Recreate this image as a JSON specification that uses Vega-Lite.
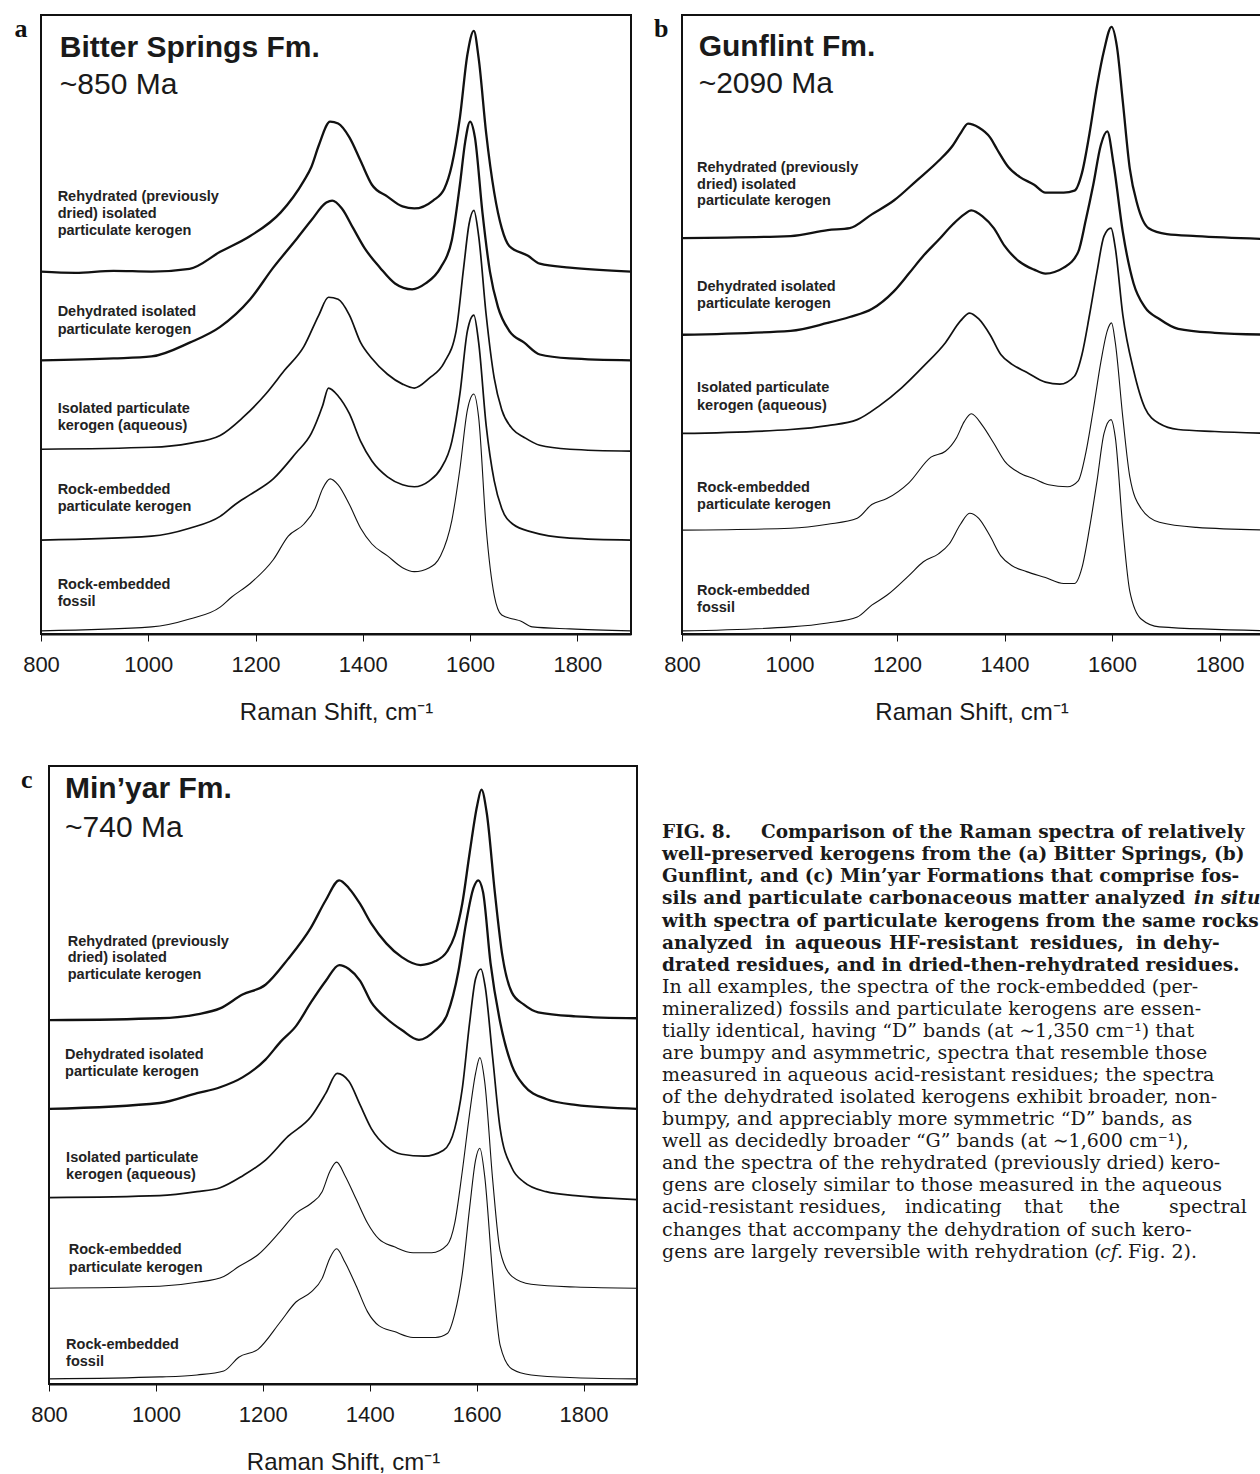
{
"$schema": "https://vega.github.io/schema/vega-lite/v6.json",
"background": "white",
"padding": {"left": 13, "top": 14, "right": 0, "bottom": 0},
"config": {"view": {"stroke": "#111", "strokeWidth": 2}},
"datasets": {
"spectra": [
{"p":"a","s":1,"x":800,"y":918},{"p":"a","s":1,"x":864,"y":915},{"p":"a","s":1,"x":935,"y":920},{"p":"a","s":1,"x":1006,"y":918},{"p":"a","s":1,"x":1077,"y":925},{"p":"a","s":1,"x":1134,"y":968},{"p":"a","s":1,"x":1190,"y":1008},{"p":"a","s":1,"x":1247,"y":1068},{"p":"a","s":1,"x":1290,"y":1148},{"p":"a","s":1,"x":1304,"y":1183},{"p":"a","s":1,"x":1318,"y":1238},{"p":"a","s":1,"x":1339,"y":1298},{"p":"a","s":1,"x":1354,"y":1293},{"p":"a","s":1,"x":1375,"y":1258},{"p":"a","s":1,"x":1396,"y":1198},{"p":"a","s":1,"x":1417,"y":1138},{"p":"a","s":1,"x":1446,"y":1108},{"p":"a","s":1,"x":1474,"y":1083},{"p":"a","s":1,"x":1496,"y":1078},{"p":"a","s":1,"x":1531,"y":1098},{"p":"a","s":1,"x":1552,"y":1128},{"p":"a","s":1,"x":1566,"y":1188},{"p":"a","s":1,"x":1581,"y":1308},{"p":"a","s":1,"x":1595,"y":1468},{"p":"a","s":1,"x":1607,"y":1528},{"p":"a","s":1,"x":1616,"y":1458},{"p":"a","s":1,"x":1630,"y":1268},{"p":"a","s":1,"x":1645,"y":1118},{"p":"a","s":1,"x":1659,"y":1028},{"p":"a","s":1,"x":1673,"y":983},{"p":"a","s":1,"x":1708,"y":958},{"p":"a","s":1,"x":1730,"y":938},{"p":"a","s":1,"x":1786,"y":928},{"p":"a","s":1,"x":1900,"y":918},
{"p":"a","s":2,"x":800,"y":693},{"p":"a","s":2,"x":935,"y":698},{"p":"a","s":2,"x":1006,"y":703},{"p":"a","s":2,"x":1077,"y":738},{"p":"a","s":2,"x":1134,"y":778},{"p":"a","s":2,"x":1190,"y":848},{"p":"a","s":2,"x":1233,"y":928},{"p":"a","s":2,"x":1275,"y":998},{"p":"a","s":2,"x":1304,"y":1048},{"p":"a","s":2,"x":1332,"y":1093},{"p":"a","s":2,"x":1343,"y":1098},{"p":"a","s":2,"x":1361,"y":1078},{"p":"a","s":2,"x":1382,"y":1028},{"p":"a","s":2,"x":1403,"y":978},{"p":"a","s":2,"x":1432,"y":928},{"p":"a","s":2,"x":1460,"y":888},{"p":"a","s":2,"x":1492,"y":873},{"p":"a","s":2,"x":1517,"y":888},{"p":"a","s":2,"x":1545,"y":928},{"p":"a","s":2,"x":1566,"y":998},{"p":"a","s":2,"x":1581,"y":1138},{"p":"a","s":2,"x":1591,"y":1248},{"p":"a","s":2,"x":1600,"y":1298},{"p":"a","s":2,"x":1609,"y":1258},{"p":"a","s":2,"x":1623,"y":1068},{"p":"a","s":2,"x":1637,"y":918},{"p":"a","s":2,"x":1652,"y":828},{"p":"a","s":2,"x":1673,"y":768},{"p":"a","s":2,"x":1701,"y":738},{"p":"a","s":2,"x":1730,"y":708},{"p":"a","s":2,"x":1786,"y":698},{"p":"a","s":2,"x":1900,"y":693},
{"p":"a","s":3,"x":800,"y":468},{"p":"a","s":3,"x":1006,"y":473},{"p":"a","s":3,"x":1077,"y":483},{"p":"a","s":3,"x":1134,"y":503},{"p":"a","s":3,"x":1176,"y":548},{"p":"a","s":3,"x":1219,"y":608},{"p":"a","s":3,"x":1254,"y":668},{"p":"a","s":3,"x":1290,"y":728},{"p":"a","s":3,"x":1318,"y":808},{"p":"a","s":3,"x":1336,"y":853},{"p":"a","s":3,"x":1354,"y":848},{"p":"a","s":3,"x":1375,"y":808},{"p":"a","s":3,"x":1396,"y":738},{"p":"a","s":3,"x":1417,"y":698},{"p":"a","s":3,"x":1446,"y":658},{"p":"a","s":3,"x":1474,"y":633},{"p":"a","s":3,"x":1496,"y":623},{"p":"a","s":3,"x":1524,"y":648},{"p":"a","s":3,"x":1552,"y":688},{"p":"a","s":3,"x":1574,"y":768},{"p":"a","s":3,"x":1588,"y":928},{"p":"a","s":3,"x":1598,"y":1038},{"p":"a","s":3,"x":1607,"y":1073},{"p":"a","s":3,"x":1616,"y":1008},{"p":"a","s":3,"x":1630,"y":808},{"p":"a","s":3,"x":1645,"y":648},{"p":"a","s":3,"x":1659,"y":568},{"p":"a","s":3,"x":1680,"y":518},{"p":"a","s":3,"x":1701,"y":498},{"p":"a","s":3,"x":1730,"y":478},{"p":"a","s":3,"x":1786,"y":468},{"p":"a","s":3,"x":1900,"y":463},
{"p":"a","s":4,"x":800,"y":238},{"p":"a","s":4,"x":1006,"y":248},{"p":"a","s":4,"x":1077,"y":268},{"p":"a","s":4,"x":1134,"y":298},{"p":"a","s":4,"x":1162,"y":328},{"p":"a","s":4,"x":1190,"y":353},{"p":"a","s":4,"x":1233,"y":393},{"p":"a","s":4,"x":1275,"y":458},{"p":"a","s":4,"x":1304,"y":508},{"p":"a","s":4,"x":1325,"y":578},{"p":"a","s":4,"x":1336,"y":623},{"p":"a","s":4,"x":1354,"y":603},{"p":"a","s":4,"x":1375,"y":558},{"p":"a","s":4,"x":1396,"y":488},{"p":"a","s":4,"x":1417,"y":438},{"p":"a","s":4,"x":1446,"y":398},{"p":"a","s":4,"x":1474,"y":378},{"p":"a","s":4,"x":1496,"y":373},{"p":"a","s":4,"x":1524,"y":388},{"p":"a","s":4,"x":1545,"y":418},{"p":"a","s":4,"x":1566,"y":488},{"p":"a","s":4,"x":1581,"y":608},{"p":"a","s":4,"x":1595,"y":768},{"p":"a","s":4,"x":1607,"y":808},{"p":"a","s":4,"x":1616,"y":738},{"p":"a","s":4,"x":1630,"y":528},{"p":"a","s":4,"x":1645,"y":388},{"p":"a","s":4,"x":1659,"y":318},{"p":"a","s":4,"x":1680,"y":278},{"p":"a","s":4,"x":1716,"y":258},{"p":"a","s":4,"x":1786,"y":243},{"p":"a","s":4,"x":1900,"y":238},
{"p":"a","s":5,"x":800,"y":8},{"p":"a","s":5,"x":1006,"y":18},{"p":"a","s":5,"x":1077,"y":38},{"p":"a","s":5,"x":1134,"y":68},{"p":"a","s":5,"x":1155,"y":93},{"p":"a","s":5,"x":1190,"y":128},{"p":"a","s":5,"x":1233,"y":188},{"p":"a","s":5,"x":1261,"y":248},{"p":"a","s":5,"x":1290,"y":278},{"p":"a","s":5,"x":1311,"y":318},{"p":"a","s":5,"x":1325,"y":368},{"p":"a","s":5,"x":1339,"y":393},{"p":"a","s":5,"x":1354,"y":378},{"p":"a","s":5,"x":1375,"y":328},{"p":"a","s":5,"x":1396,"y":268},{"p":"a","s":5,"x":1417,"y":228},{"p":"a","s":5,"x":1446,"y":198},{"p":"a","s":5,"x":1474,"y":168},{"p":"a","s":5,"x":1496,"y":158},{"p":"a","s":5,"x":1524,"y":168},{"p":"a","s":5,"x":1545,"y":198},{"p":"a","s":5,"x":1566,"y":288},{"p":"a","s":5,"x":1581,"y":418},{"p":"a","s":5,"x":1595,"y":568},{"p":"a","s":5,"x":1607,"y":608},{"p":"a","s":5,"x":1616,"y":548},{"p":"a","s":5,"x":1630,"y":268},{"p":"a","s":5,"x":1645,"y":98},{"p":"a","s":5,"x":1659,"y":48},{"p":"a","s":5,"x":1680,"y":38},{"p":"a","s":5,"x":1694,"y":33},{"p":"a","s":5,"x":1716,"y":18},{"p":"a","s":5,"x":1786,"y":13},{"p":"a","s":5,"x":1900,"y":8},
{"p":"b","s":1,"x":800,"y":1003},{"p":"b","s":1,"x":1002,"y":1008},{"p":"b","s":1,"x":1071,"y":1023},{"p":"b","s":1,"x":1112,"y":1028},{"p":"b","s":1,"x":1153,"y":1063},{"p":"b","s":1,"x":1194,"y":1098},{"p":"b","s":1,"x":1236,"y":1148},{"p":"b","s":1,"x":1277,"y":1198},{"p":"b","s":1,"x":1304,"y":1238},{"p":"b","s":1,"x":1318,"y":1268},{"p":"b","s":1,"x":1332,"y":1293},{"p":"b","s":1,"x":1352,"y":1283},{"p":"b","s":1,"x":1373,"y":1258},{"p":"b","s":1,"x":1386,"y":1228},{"p":"b","s":1,"x":1407,"y":1183},{"p":"b","s":1,"x":1428,"y":1158},{"p":"b","s":1,"x":1455,"y":1138},{"p":"b","s":1,"x":1476,"y":1118},{"p":"b","s":1,"x":1510,"y":1118},{"p":"b","s":1,"x":1530,"y":1123},{"p":"b","s":1,"x":1544,"y":1168},{"p":"b","s":1,"x":1558,"y":1268},{"p":"b","s":1,"x":1572,"y":1388},{"p":"b","s":1,"x":1585,"y":1478},{"p":"b","s":1,"x":1599,"y":1538},{"p":"b","s":1,"x":1609,"y":1488},{"p":"b","s":1,"x":1620,"y":1348},{"p":"b","s":1,"x":1633,"y":1178},{"p":"b","s":1,"x":1647,"y":1088},{"p":"b","s":1,"x":1668,"y":1028},{"p":"b","s":1,"x":1702,"y":1013},{"p":"b","s":1,"x":1757,"y":1008},{"p":"b","s":1,"x":1900,"y":1000},
{"p":"b","s":2,"x":800,"y":758},{"p":"b","s":2,"x":1002,"y":768},{"p":"b","s":2,"x":1071,"y":788},{"p":"b","s":2,"x":1112,"y":803},{"p":"b","s":2,"x":1153,"y":823},{"p":"b","s":2,"x":1194,"y":868},{"p":"b","s":2,"x":1222,"y":913},{"p":"b","s":2,"x":1249,"y":958},{"p":"b","s":2,"x":1277,"y":998},{"p":"b","s":2,"x":1304,"y":1038},{"p":"b","s":2,"x":1325,"y":1063},{"p":"b","s":2,"x":1338,"y":1073},{"p":"b","s":2,"x":1359,"y":1058},{"p":"b","s":2,"x":1380,"y":1028},{"p":"b","s":2,"x":1400,"y":983},{"p":"b","s":2,"x":1428,"y":943},{"p":"b","s":2,"x":1455,"y":923},{"p":"b","s":2,"x":1476,"y":913},{"p":"b","s":2,"x":1510,"y":928},{"p":"b","s":2,"x":1537,"y":968},{"p":"b","s":2,"x":1551,"y":1048},{"p":"b","s":2,"x":1565,"y":1138},{"p":"b","s":2,"x":1579,"y":1238},{"p":"b","s":2,"x":1591,"y":1273},{"p":"b","s":2,"x":1603,"y":1188},{"p":"b","s":2,"x":1620,"y":1018},{"p":"b","s":2,"x":1640,"y":888},{"p":"b","s":2,"x":1661,"y":828},{"p":"b","s":2,"x":1688,"y":798},{"p":"b","s":2,"x":1723,"y":773},{"p":"b","s":2,"x":1791,"y":763},{"p":"b","s":2,"x":1900,"y":758},
{"p":"b","s":3,"x":800,"y":508},{"p":"b","s":3,"x":1002,"y":518},{"p":"b","s":3,"x":1071,"y":528},{"p":"b","s":3,"x":1126,"y":543},{"p":"b","s":3,"x":1167,"y":578},{"p":"b","s":3,"x":1208,"y":623},{"p":"b","s":3,"x":1249,"y":678},{"p":"b","s":3,"x":1290,"y":738},{"p":"b","s":3,"x":1318,"y":793},{"p":"b","s":3,"x":1335,"y":813},{"p":"b","s":3,"x":1352,"y":798},{"p":"b","s":3,"x":1373,"y":758},{"p":"b","s":3,"x":1393,"y":708},{"p":"b","s":3,"x":1414,"y":683},{"p":"b","s":3,"x":1441,"y":663},{"p":"b","s":3,"x":1476,"y":638},{"p":"b","s":3,"x":1503,"y":633},{"p":"b","s":3,"x":1530,"y":653},{"p":"b","s":3,"x":1544,"y":708},{"p":"b","s":3,"x":1558,"y":808},{"p":"b","s":3,"x":1572,"y":918},{"p":"b","s":3,"x":1585,"y":1008},{"p":"b","s":3,"x":1598,"y":1028},{"p":"b","s":3,"x":1606,"y":978},{"p":"b","s":3,"x":1620,"y":808},{"p":"b","s":3,"x":1640,"y":668},{"p":"b","s":3,"x":1661,"y":573},{"p":"b","s":3,"x":1688,"y":533},{"p":"b","s":3,"x":1723,"y":518},{"p":"b","s":3,"x":1791,"y":513},{"p":"b","s":3,"x":1900,"y":508},
{"p":"b","s":4,"x":800,"y":263},{"p":"b","s":4,"x":1002,"y":268},{"p":"b","s":4,"x":1071,"y":278},{"p":"b","s":4,"x":1126,"y":293},{"p":"b","s":4,"x":1153,"y":328},{"p":"b","s":4,"x":1181,"y":343},{"p":"b","s":4,"x":1222,"y":383},{"p":"b","s":4,"x":1263,"y":448},{"p":"b","s":4,"x":1290,"y":463},{"p":"b","s":4,"x":1311,"y":498},{"p":"b","s":4,"x":1325,"y":538},{"p":"b","s":4,"x":1338,"y":558},{"p":"b","s":4,"x":1359,"y":528},{"p":"b","s":4,"x":1380,"y":483},{"p":"b","s":4,"x":1400,"y":438},{"p":"b","s":4,"x":1428,"y":408},{"p":"b","s":4,"x":1455,"y":393},{"p":"b","s":4,"x":1482,"y":378},{"p":"b","s":4,"x":1517,"y":373},{"p":"b","s":4,"x":1537,"y":388},{"p":"b","s":4,"x":1551,"y":458},{"p":"b","s":4,"x":1565,"y":568},{"p":"b","s":4,"x":1579,"y":688},{"p":"b","s":4,"x":1591,"y":768},{"p":"b","s":4,"x":1599,"y":788},{"p":"b","s":4,"x":1606,"y":738},{"p":"b","s":4,"x":1620,"y":548},{"p":"b","s":4,"x":1633,"y":398},{"p":"b","s":4,"x":1654,"y":318},{"p":"b","s":4,"x":1688,"y":283},{"p":"b","s":4,"x":1757,"y":270},{"p":"b","s":4,"x":1900,"y":263},
{"p":"b","s":5,"x":800,"y":8},{"p":"b","s":5,"x":1002,"y":18},{"p":"b","s":5,"x":1071,"y":28},{"p":"b","s":5,"x":1126,"y":43},{"p":"b","s":5,"x":1153,"y":73},{"p":"b","s":5,"x":1181,"y":98},{"p":"b","s":5,"x":1222,"y":148},{"p":"b","s":5,"x":1249,"y":183},{"p":"b","s":5,"x":1277,"y":203},{"p":"b","s":5,"x":1297,"y":228},{"p":"b","s":5,"x":1318,"y":278},{"p":"b","s":5,"x":1335,"y":306},{"p":"b","s":5,"x":1352,"y":293},{"p":"b","s":5,"x":1373,"y":248},{"p":"b","s":5,"x":1393,"y":198},{"p":"b","s":5,"x":1414,"y":173},{"p":"b","s":5,"x":1441,"y":158},{"p":"b","s":5,"x":1476,"y":143},{"p":"b","s":5,"x":1510,"y":128},{"p":"b","s":5,"x":1530,"y":128},{"p":"b","s":5,"x":1544,"y":168},{"p":"b","s":5,"x":1558,"y":268},{"p":"b","s":5,"x":1572,"y":388},{"p":"b","s":5,"x":1585,"y":508},{"p":"b","s":5,"x":1598,"y":543},{"p":"b","s":5,"x":1606,"y":498},{"p":"b","s":5,"x":1620,"y":268},{"p":"b","s":5,"x":1633,"y":108},{"p":"b","s":5,"x":1654,"y":38},{"p":"b","s":5,"x":1688,"y":18},{"p":"b","s":5,"x":1900,"y":8},
{"p":"c","s":1,"x":800,"y":923},{"p":"c","s":1,"x":1007,"y":928},{"p":"c","s":1,"x":1077,"y":938},{"p":"c","s":1,"x":1120,"y":953},{"p":"c","s":1,"x":1162,"y":988},{"p":"c","s":1,"x":1205,"y":1013},{"p":"c","s":1,"x":1247,"y":1078},{"p":"c","s":1,"x":1290,"y":1158},{"p":"c","s":1,"x":1318,"y":1228},{"p":"c","s":1,"x":1343,"y":1278},{"p":"c","s":1,"x":1361,"y":1258},{"p":"c","s":1,"x":1382,"y":1218},{"p":"c","s":1,"x":1403,"y":1168},{"p":"c","s":1,"x":1431,"y":1118},{"p":"c","s":1,"x":1460,"y":1083},{"p":"c","s":1,"x":1495,"y":1063},{"p":"c","s":1,"x":1523,"y":1073},{"p":"c","s":1,"x":1545,"y":1098},{"p":"c","s":1,"x":1559,"y":1138},{"p":"c","s":1,"x":1573,"y":1218},{"p":"c","s":1,"x":1587,"y":1348},{"p":"c","s":1,"x":1601,"y":1468},{"p":"c","s":1,"x":1609,"y":1508},{"p":"c","s":1,"x":1619,"y":1448},{"p":"c","s":1,"x":1634,"y":1248},{"p":"c","s":1,"x":1648,"y":1088},{"p":"c","s":1,"x":1666,"y":993},{"p":"c","s":1,"x":1688,"y":963},{"p":"c","s":1,"x":1715,"y":943},{"p":"c","s":1,"x":1785,"y":933},{"p":"c","s":1,"x":1900,"y":928},
{"p":"c","s":2,"x":800,"y":698},{"p":"c","s":2,"x":1007,"y":713},{"p":"c","s":2,"x":1077,"y":738},{"p":"c","s":2,"x":1120,"y":753},{"p":"c","s":2,"x":1162,"y":778},{"p":"c","s":2,"x":1205,"y":823},{"p":"c","s":2,"x":1233,"y":868},{"p":"c","s":2,"x":1262,"y":908},{"p":"c","s":2,"x":1290,"y":968},{"p":"c","s":2,"x":1318,"y":1023},{"p":"c","s":2,"x":1343,"y":1063},{"p":"c","s":2,"x":1361,"y":1053},{"p":"c","s":2,"x":1382,"y":1023},{"p":"c","s":2,"x":1403,"y":968},{"p":"c","s":2,"x":1431,"y":928},{"p":"c","s":2,"x":1460,"y":898},{"p":"c","s":2,"x":1492,"y":873},{"p":"c","s":2,"x":1523,"y":898},{"p":"c","s":2,"x":1545,"y":938},{"p":"c","s":2,"x":1566,"y":1048},{"p":"c","s":2,"x":1580,"y":1168},{"p":"c","s":2,"x":1594,"y":1258},{"p":"c","s":2,"x":1603,"y":1278},{"p":"c","s":2,"x":1612,"y":1248},{"p":"c","s":2,"x":1626,"y":1068},{"p":"c","s":2,"x":1644,"y":918},{"p":"c","s":2,"x":1666,"y":808},{"p":"c","s":2,"x":1688,"y":758},{"p":"c","s":2,"x":1730,"y":723},{"p":"c","s":2,"x":1785,"y":708},{"p":"c","s":2,"x":1900,"y":698},
{"p":"c","s":3,"x":800,"y":473},{"p":"c","s":3,"x":1007,"y":478},{"p":"c","s":3,"x":1077,"y":488},{"p":"c","s":3,"x":1120,"y":498},{"p":"c","s":3,"x":1162,"y":528},{"p":"c","s":3,"x":1205,"y":568},{"p":"c","s":3,"x":1247,"y":628},{"p":"c","s":3,"x":1290,"y":678},{"p":"c","s":3,"x":1318,"y":738},{"p":"c","s":3,"x":1339,"y":788},{"p":"c","s":3,"x":1361,"y":768},{"p":"c","s":3,"x":1382,"y":708},{"p":"c","s":3,"x":1403,"y":648},{"p":"c","s":3,"x":1431,"y":603},{"p":"c","s":3,"x":1460,"y":583},{"p":"c","s":3,"x":1502,"y":578},{"p":"c","s":3,"x":1538,"y":593},{"p":"c","s":3,"x":1559,"y":648},{"p":"c","s":3,"x":1573,"y":748},{"p":"c","s":3,"x":1587,"y":918},{"p":"c","s":3,"x":1598,"y":1028},{"p":"c","s":3,"x":1608,"y":1053},{"p":"c","s":3,"x":1616,"y":1008},{"p":"c","s":3,"x":1630,"y":828},{"p":"c","s":3,"x":1644,"y":648},{"p":"c","s":3,"x":1666,"y":548},{"p":"c","s":3,"x":1688,"y":513},{"p":"c","s":3,"x":1730,"y":488},{"p":"c","s":3,"x":1785,"y":478},{"p":"c","s":3,"x":1900,"y":468},
{"p":"c","s":4,"x":800,"y":243},{"p":"c","s":4,"x":1007,"y":248},{"p":"c","s":4,"x":1077,"y":258},{"p":"c","s":4,"x":1127,"y":273},{"p":"c","s":4,"x":1155,"y":298},{"p":"c","s":4,"x":1191,"y":328},{"p":"c","s":4,"x":1233,"y":388},{"p":"c","s":4,"x":1262,"y":433},{"p":"c","s":4,"x":1290,"y":458},{"p":"c","s":4,"x":1311,"y":488},{"p":"c","s":4,"x":1325,"y":538},{"p":"c","s":4,"x":1338,"y":563},{"p":"c","s":4,"x":1354,"y":528},{"p":"c","s":4,"x":1375,"y":468},{"p":"c","s":4,"x":1396,"y":408},{"p":"c","s":4,"x":1417,"y":368},{"p":"c","s":4,"x":1446,"y":348},{"p":"c","s":4,"x":1481,"y":333},{"p":"c","s":4,"x":1516,"y":333},{"p":"c","s":4,"x":1545,"y":353},{"p":"c","s":4,"x":1559,"y":408},{"p":"c","s":4,"x":1573,"y":538},{"p":"c","s":4,"x":1587,"y":688},{"p":"c","s":4,"x":1598,"y":788},{"p":"c","s":4,"x":1606,"y":828},{"p":"c","s":4,"x":1615,"y":768},{"p":"c","s":4,"x":1630,"y":518},{"p":"c","s":4,"x":1644,"y":338},{"p":"c","s":4,"x":1666,"y":273},{"p":"c","s":4,"x":1702,"y":253},{"p":"c","s":4,"x":1785,"y":246},{"p":"c","s":4,"x":1900,"y":243},
{"p":"c","s":5,"x":800,"y":13},{"p":"c","s":5,"x":1007,"y":18},{"p":"c","s":5,"x":1077,"y":23},{"p":"c","s":5,"x":1127,"y":33},{"p":"c","s":5,"x":1155,"y":68},{"p":"c","s":5,"x":1191,"y":88},{"p":"c","s":5,"x":1233,"y":158},{"p":"c","s":5,"x":1262,"y":208},{"p":"c","s":5,"x":1290,"y":233},{"p":"c","s":5,"x":1311,"y":268},{"p":"c","s":5,"x":1325,"y":318},{"p":"c","s":5,"x":1338,"y":343},{"p":"c","s":5,"x":1354,"y":308},{"p":"c","s":5,"x":1375,"y":248},{"p":"c","s":5,"x":1396,"y":183},{"p":"c","s":5,"x":1417,"y":148},{"p":"c","s":5,"x":1446,"y":133},{"p":"c","s":5,"x":1481,"y":118},{"p":"c","s":5,"x":1523,"y":118},{"p":"c","s":5,"x":1545,"y":128},{"p":"c","s":5,"x":1559,"y":178},{"p":"c","s":5,"x":1573,"y":278},{"p":"c","s":5,"x":1587,"y":448},{"p":"c","s":5,"x":1598,"y":568},{"p":"c","s":5,"x":1606,"y":598},{"p":"c","s":5,"x":1615,"y":528},{"p":"c","s":5,"x":1630,"y":278},{"p":"c","s":5,"x":1644,"y":98},{"p":"c","s":5,"x":1666,"y":38},{"p":"c","s":5,"x":1702,"y":23},{"p":"c","s":5,"x":1785,"y":16},{"p":"c","s":5,"x":1900,"y":13}
],
"labels": [
{"p":"a","k":"title","x":835,"y":1484,"t":"Bitter Springs Fm."},
{"p":"a","k":"age","x":835,"y":1390,"t":"~850 Ma"},
{"p":"a","k":"lab","x":831,"y":1106,"t":"Rehydrated (previously"},
{"p":"a","k":"lab","x":831,"y":1063,"t":"dried) isolated"},
{"p":"a","k":"lab","x":831,"y":1021,"t":"particulate kerogen"},
{"p":"a","k":"lab","x":831,"y":816,"t":"Dehydrated isolated"},
{"p":"a","k":"lab","x":831,"y":771,"t":"particulate kerogen"},
{"p":"a","k":"lab","x":831,"y":571,"t":"Isolated particulate"},
{"p":"a","k":"lab","x":831,"y":528,"t":"kerogen (aqueous)"},
{"p":"a","k":"lab","x":831,"y":365,"t":"Rock-embedded"},
{"p":"a","k":"lab","x":831,"y":321,"t":"particulate kerogen"},
{"p":"a","k":"lab","x":831,"y":123,"t":"Rock-embedded"},
{"p":"a","k":"lab","x":831,"y":80,"t":"fossil"},
{"p":"b","k":"title","x":831,"y":1486,"t":"Gunflint Fm."},
{"p":"b","k":"age","x":831,"y":1393,"t":"~2090 Ma"},
{"p":"b","k":"lab","x":828,"y":1180,"t":"Rehydrated (previously"},
{"p":"b","k":"lab","x":828,"y":1138,"t":"dried) isolated"},
{"p":"b","k":"lab","x":828,"y":1096,"t":"particulate kerogen"},
{"p":"b","k":"lab","x":828,"y":880,"t":"Dehydrated isolated"},
{"p":"b","k":"lab","x":828,"y":836,"t":"particulate kerogen"},
{"p":"b","k":"lab","x":828,"y":623,"t":"Isolated particulate"},
{"p":"b","k":"lab","x":828,"y":578,"t":"kerogen (aqueous)"},
{"p":"b","k":"lab","x":828,"y":370,"t":"Rock-embedded"},
{"p":"b","k":"lab","x":828,"y":326,"t":"particulate kerogen"},
{"p":"b","k":"lab","x":828,"y":108,"t":"Rock-embedded"},
{"p":"b","k":"lab","x":828,"y":65,"t":"fossil"},
{"p":"c","k":"title","x":830,"y":1510,"t":"Min’yar Fm."},
{"p":"c","k":"age","x":830,"y":1411,"t":"~740 Ma"},
{"p":"c","k":"lab","x":835,"y":1121,"t":"Rehydrated (previously"},
{"p":"c","k":"lab","x":835,"y":1081,"t":"dried) isolated"},
{"p":"c","k":"lab","x":835,"y":1038,"t":"particulate kerogen"},
{"p":"c","k":"lab","x":830,"y":835,"t":"Dehydrated isolated"},
{"p":"c","k":"lab","x":830,"y":792,"t":"particulate kerogen"},
{"p":"c","k":"lab","x":832,"y":573,"t":"Isolated particulate"},
{"p":"c","k":"lab","x":832,"y":530,"t":"kerogen (aqueous)"},
{"p":"c","k":"lab","x":837,"y":340,"t":"Rock-embedded"},
{"p":"c","k":"lab","x":837,"y":294,"t":"particulate kerogen"},
{"p":"c","k":"lab","x":832,"y":99,"t":"Rock-embedded"},
{"p":"c","k":"lab","x":832,"y":56,"t":"fossil"}
],
"caption": [
{"line":1,"cx":0,"f":"b","t":"FIG. 8."},
{"line":1,"cx":99,"f":"b","t":"Comparison of the Raman spectra of relatively"},
{"line":2,"cx":0,"f":"b","t":"well-preserved kerogens from the (a) Bitter Springs, (b)"},
{"line":3,"cx":0,"f":"b","t":"Gunflint, and (c) Min’yar Formations that comprise fos-"},
{"line":4,"cx":0,"f":"b","t":"sils and particulate carbonaceous matter analyzed"},
{"line":4,"cx":532,"f":"bi","t":"in situ"},
{"line":5,"cx":0,"f":"b","t":"with spectra of particulate kerogens from the same rocks"},
{"line":6,"cx":0,"f":"b","t":"analyzed"},
{"line":6,"cx":103,"f":"b","t":"in"},
{"line":6,"cx":133,"f":"b","t":"aqueous"},
{"line":6,"cx":227,"f":"b","t":"HF-resistant"},
{"line":6,"cx":368,"f":"b","t":"residues,"},
{"line":6,"cx":474,"f":"b","t":"in"},
{"line":6,"cx":501,"f":"b","t":"dehy-"},
{"line":7,"cx":0,"f":"b","t":"drated residues, and in dried-then-rehydrated residues."},
{"line":8,"cx":0,"f":"r","t":"In all examples, the spectra of the rock-embedded (per-"},
{"line":9,"cx":0,"f":"r","t":"mineralized) fossils and particulate kerogens are essen-"},
{"line":10,"cx":0,"f":"r","t":"tially identical, having “D” bands (at ∼1,350 cm⁻¹) that"},
{"line":11,"cx":0,"f":"r","t":"are bumpy and asymmetric, spectra that resemble those"},
{"line":12,"cx":0,"f":"r","t":"measured in aqueous acid-resistant residues; the spectra"},
{"line":13,"cx":0,"f":"r","t":"of the dehydrated isolated kerogens exhibit broader, non-"},
{"line":14,"cx":0,"f":"r","t":"bumpy, and appreciably more symmetric “D” bands, as"},
{"line":15,"cx":0,"f":"r","t":"well as decidedly broader “G” bands (at ∼1,600 cm⁻¹),"},
{"line":16,"cx":0,"f":"r","t":"and the spectra of the rehydrated (previously dried) kero-"},
{"line":17,"cx":0,"f":"r","t":"gens are closely similar to those measured in the aqueous"},
{"line":18,"cx":0,"f":"r","t":"acid-resistant"},
{"line":18,"cx":137,"f":"r","t":"residues,"},
{"line":18,"cx":243,"f":"r","t":"indicating"},
{"line":18,"cx":362,"f":"r","t":"that"},
{"line":18,"cx":427,"f":"r","t":"the"},
{"line":18,"cx":507,"f":"r","t":"spectral"},
{"line":19,"cx":0,"f":"r","t":"changes that accompany the dehydration of such kero-"},
{"line":20,"cx":0,"f":"r","t":"gens are largely reversible with rehydration ("},
{"line":20,"cx":438,"f":"i","t":"cf."},
{"line":20,"cx":466,"f":"r","t":"Fig. 2)."}
]
},
"spacing": 40,
"vconcat": [
{"spacing": 20, "hconcat": [
{"width": 590, "height": 619,
 "encoding": {
  "x": {"field": "x", "type": "quantitative", "scale": {"domain": [800, 1900], "nice": false, "zero": false},
   "axis": {"title": "Raman Shift, cm⁻¹", "values": [800, 1000, 1200, 1400, 1600, 1800], "format": "d", "grid": false, "domainColor": "#111", "domainWidth": 2, "tickColor": "#111", "tickSize": 7, "tickWidth": 1, "labelFlush": false, "labelOverlap": false, "labelFont": "Liberation Sans", "labelFontSize": 22, "labelColor": "#1a1a1a", "labelPadding": 13, "titleFont": "Liberation Sans", "titleFontSize": 24, "titleFontWeight": "normal", "titleColor": "#1a1a1a", "titlePadding": 25}},
  "y": {"field": "y", "type": "quantitative", "scale": {"domain": [0, 1568], "nice": false, "zero": false},
   "axis": {"title": "a", "domain": false, "ticks": false, "labels": false, "grid": false, "minExtent": 0, "maxExtent": 0, "titleAngle": 0, "titleAlign": "right", "titleBaseline": "top", "titleAnchor": "end", "titlePadding": 14, "titleFont": "Liberation Serif", "titleFontSize": 26, "titleFontWeight": "bold", "titleColor": "#111"}}
 },
 "layer": [
  {"data": {"name": "spectra"}, "transform": [{"filter": "datum.p == 'a' && datum.s <= 2"}], "mark": {"type": "line", "color": "#111", "strokeWidth": 2.3, "interpolate": "monotone", "clip": true}, "encoding": {"detail": {"field": "s", "type": "nominal"}}},
  {"data": {"name": "spectra"}, "transform": [{"filter": "datum.p == 'a' && datum.s >= 3 && datum.s <= 4"}], "mark": {"type": "line", "color": "#111", "strokeWidth": 1.7, "interpolate": "monotone", "clip": true}, "encoding": {"detail": {"field": "s", "type": "nominal"}}},
  {"data": {"name": "spectra"}, "transform": [{"filter": "datum.p == 'a' && datum.s == 5"}], "mark": {"type": "line", "color": "#111", "strokeWidth": 1.1, "interpolate": "monotone", "clip": true}, "encoding": {"detail": {"field": "s", "type": "nominal"}}},
  {"data": {"name": "labels"}, "transform": [{"filter": "datum.p == 'a' && datum.k == 'title'"}], "mark": {"type": "text", "align": "left", "baseline": "middle", "font": "Liberation Sans", "fontSize": 30, "fontWeight": "bold", "color": "#1a1a1a"}, "encoding": {"text": {"field": "t"}}},
  {"data": {"name": "labels"}, "transform": [{"filter": "datum.p == 'a' && datum.k == 'age'"}], "mark": {"type": "text", "align": "left", "baseline": "middle", "font": "Liberation Sans", "fontSize": 30, "fontWeight": "normal", "color": "#1a1a1a"}, "encoding": {"text": {"field": "t"}}},
  {"data": {"name": "labels"}, "transform": [{"filter": "datum.p == 'a' && datum.k == 'lab'"}], "mark": {"type": "text", "align": "left", "baseline": "middle", "font": "Liberation Sans", "fontSize": 14.5, "fontWeight": "bold", "color": "#222"}, "encoding": {"text": {"field": "t"}}}
 ]
},
{"width": 579, "height": 619,
 "encoding": {
  "x": {"field": "x", "type": "quantitative", "scale": {"domain": [800, 1877], "nice": false, "zero": false},
   "axis": {"title": "Raman Shift, cm⁻¹", "values": [800, 1000, 1200, 1400, 1600, 1800], "format": "d", "grid": false, "domainColor": "#111", "domainWidth": 2, "tickColor": "#111", "tickSize": 7, "tickWidth": 1, "labelFlush": false, "labelOverlap": false, "labelFont": "Liberation Sans", "labelFontSize": 22, "labelColor": "#1a1a1a", "labelPadding": 13, "titleFont": "Liberation Sans", "titleFontSize": 24, "titleFontWeight": "normal", "titleColor": "#1a1a1a", "titlePadding": 25}},
  "y": {"field": "y", "type": "quantitative", "scale": {"domain": [0, 1568], "nice": false, "zero": false},
   "axis": {"title": "b", "domain": false, "ticks": false, "labels": false, "grid": false, "minExtent": 0, "maxExtent": 0, "titleAngle": 0, "titleAlign": "right", "titleBaseline": "top", "titleAnchor": "end", "titlePadding": 14, "titleFont": "Liberation Serif", "titleFontSize": 26, "titleFontWeight": "bold", "titleColor": "#111"}}
 },
 "layer": [
  {"data": {"name": "spectra"}, "transform": [{"filter": "datum.p == 'b' && datum.s <= 2"}], "mark": {"type": "line", "color": "#111", "strokeWidth": 2.3, "interpolate": "monotone", "clip": true}, "encoding": {"detail": {"field": "s", "type": "nominal"}}},
  {"data": {"name": "spectra"}, "transform": [{"filter": "datum.p == 'b' && datum.s == 3"}], "mark": {"type": "line", "color": "#111", "strokeWidth": 1.7, "interpolate": "monotone", "clip": true}, "encoding": {"detail": {"field": "s", "type": "nominal"}}},
  {"data": {"name": "spectra"}, "transform": [{"filter": "datum.p == 'b' && datum.s >= 4"}], "mark": {"type": "line", "color": "#111", "strokeWidth": 1.1, "interpolate": "monotone", "clip": true}, "encoding": {"detail": {"field": "s", "type": "nominal"}}},
  {"data": {"name": "labels"}, "transform": [{"filter": "datum.p == 'b' && datum.k == 'title'"}], "mark": {"type": "text", "align": "left", "baseline": "middle", "font": "Liberation Sans", "fontSize": 30, "fontWeight": "bold", "color": "#1a1a1a"}, "encoding": {"text": {"field": "t"}}},
  {"data": {"name": "labels"}, "transform": [{"filter": "datum.p == 'b' && datum.k == 'age'"}], "mark": {"type": "text", "align": "left", "baseline": "middle", "font": "Liberation Sans", "fontSize": 30, "fontWeight": "normal", "color": "#1a1a1a"}, "encoding": {"text": {"field": "t"}}},
  {"data": {"name": "labels"}, "transform": [{"filter": "datum.p == 'b' && datum.k == 'lab'"}], "mark": {"type": "text", "align": "left", "baseline": "middle", "font": "Liberation Sans", "fontSize": 14.5, "fontWeight": "bold", "color": "#222"}, "encoding": {"text": {"field": "t"}}}
 ]
}
]},
{"spacing": -13, "hconcat": [
{"width": 1, "height": 618, "view": {"stroke": null},
 "data": {"name": "labels"},
 "transform": [{"filter": "datum.p == 'c' && datum.k == 'title'"}],
 "mark": {"type": "text", "opacity": 0},
 "encoding": {
  "y": {"field": "y", "type": "quantitative", "scale": {"domain": [0, 1568], "nice": false, "zero": false},
   "axis": {"title": "c", "domain": false, "ticks": false, "labels": false, "grid": false, "minExtent": 0, "maxExtent": 0, "titleAngle": 0, "titleAlign": "right", "titleBaseline": "top", "titleAnchor": "end", "titlePadding": 9, "titleFont": "Liberation Serif", "titleFontSize": 26, "titleFontWeight": "bold", "titleColor": "#111"}},
  "text": {"value": ""}
 }
},
{"width": 588, "height": 618,
 "encoding": {
  "x": {"field": "x", "type": "quantitative", "scale": {"domain": [800, 1900], "nice": false, "zero": false},
   "axis": {"title": "Raman Shift, cm⁻¹", "values": [800, 1000, 1200, 1400, 1600, 1800], "format": "d", "grid": false, "domainColor": "#111", "domainWidth": 2, "tickColor": "#111", "tickSize": 7, "tickWidth": 1, "labelFlush": false, "labelOverlap": false, "labelFont": "Liberation Sans", "labelFontSize": 22, "labelColor": "#1a1a1a", "labelPadding": 13, "titleFont": "Liberation Sans", "titleFontSize": 24, "titleFontWeight": "normal", "titleColor": "#1a1a1a", "titlePadding": 25}},
  "y": {"field": "y", "type": "quantitative", "scale": {"domain": [0, 1568], "nice": false, "zero": false}, "axis": null}
 },
 "layer": [
  {"data": {"name": "spectra"}, "transform": [{"filter": "datum.p == 'c' && datum.s <= 2"}], "mark": {"type": "line", "color": "#111", "strokeWidth": 2.3, "interpolate": "monotone", "clip": true}, "encoding": {"detail": {"field": "s", "type": "nominal"}}},
  {"data": {"name": "spectra"}, "transform": [{"filter": "datum.p == 'c' && datum.s == 3"}], "mark": {"type": "line", "color": "#111", "strokeWidth": 1.7, "interpolate": "monotone", "clip": true}, "encoding": {"detail": {"field": "s", "type": "nominal"}}},
  {"data": {"name": "spectra"}, "transform": [{"filter": "datum.p == 'c' && datum.s >= 4"}], "mark": {"type": "line", "color": "#111", "strokeWidth": 1.1, "interpolate": "monotone", "clip": true}, "encoding": {"detail": {"field": "s", "type": "nominal"}}},
  {"data": {"name": "labels"}, "transform": [{"filter": "datum.p == 'c' && datum.k == 'title'"}], "mark": {"type": "text", "align": "left", "baseline": "middle", "font": "Liberation Sans", "fontSize": 30, "fontWeight": "bold", "color": "#1a1a1a"}, "encoding": {"text": {"field": "t"}}},
  {"data": {"name": "labels"}, "transform": [{"filter": "datum.p == 'c' && datum.k == 'age'"}], "mark": {"type": "text", "align": "left", "baseline": "middle", "font": "Liberation Sans", "fontSize": 30, "fontWeight": "normal", "color": "#1a1a1a"}, "encoding": {"text": {"field": "t"}}},
  {"data": {"name": "labels"}, "transform": [{"filter": "datum.p == 'c' && datum.k == 'lab'"}], "mark": {"type": "text", "align": "left", "baseline": "middle", "font": "Liberation Sans", "fontSize": 14.5, "fontWeight": "bold", "color": "#222"}, "encoding": {"text": {"field": "t"}}}
 ]
},
{"width": 624, "height": 618, "view": {"stroke": null},
 "data": {"name": "caption"},
 "encoding": {
  "x": {"field": "cx", "type": "quantitative", "scale": {"domain": [-24, 600], "nice": false, "zero": false}, "axis": null},
  "y": {"field": "line", "type": "quantitative", "scale": {"domain": [-2, 26], "nice": false, "zero": false, "reverse": true}, "axis": null},
  "text": {"field": "t"}
 },
 "layer": [
  {"transform": [{"filter": "datum.f == 'b'"}], "mark": {"type": "text", "align": "left", "baseline": "middle", "font": "DejaVu Serif", "fontSize": 18.5, "fontWeight": "bold", "color": "#1a1a1a", "clip": true}},
  {"transform": [{"filter": "datum.f == 'bi'"}], "mark": {"type": "text", "align": "left", "baseline": "middle", "font": "DejaVu Serif", "fontSize": 18.5, "fontWeight": "bold", "fontStyle": "italic", "color": "#1a1a1a", "clip": true}},
  {"transform": [{"filter": "datum.f == 'r'"}], "mark": {"type": "text", "align": "left", "baseline": "middle", "font": "DejaVu Serif", "fontSize": 19, "fontWeight": "normal", "color": "#1a1a1a", "clip": true}},
  {"transform": [{"filter": "datum.f == 'i'"}], "mark": {"type": "text", "align": "left", "baseline": "middle", "font": "DejaVu Serif", "fontSize": 19, "fontStyle": "italic", "color": "#1a1a1a", "clip": true}}
 ]
}
]}
]
}
